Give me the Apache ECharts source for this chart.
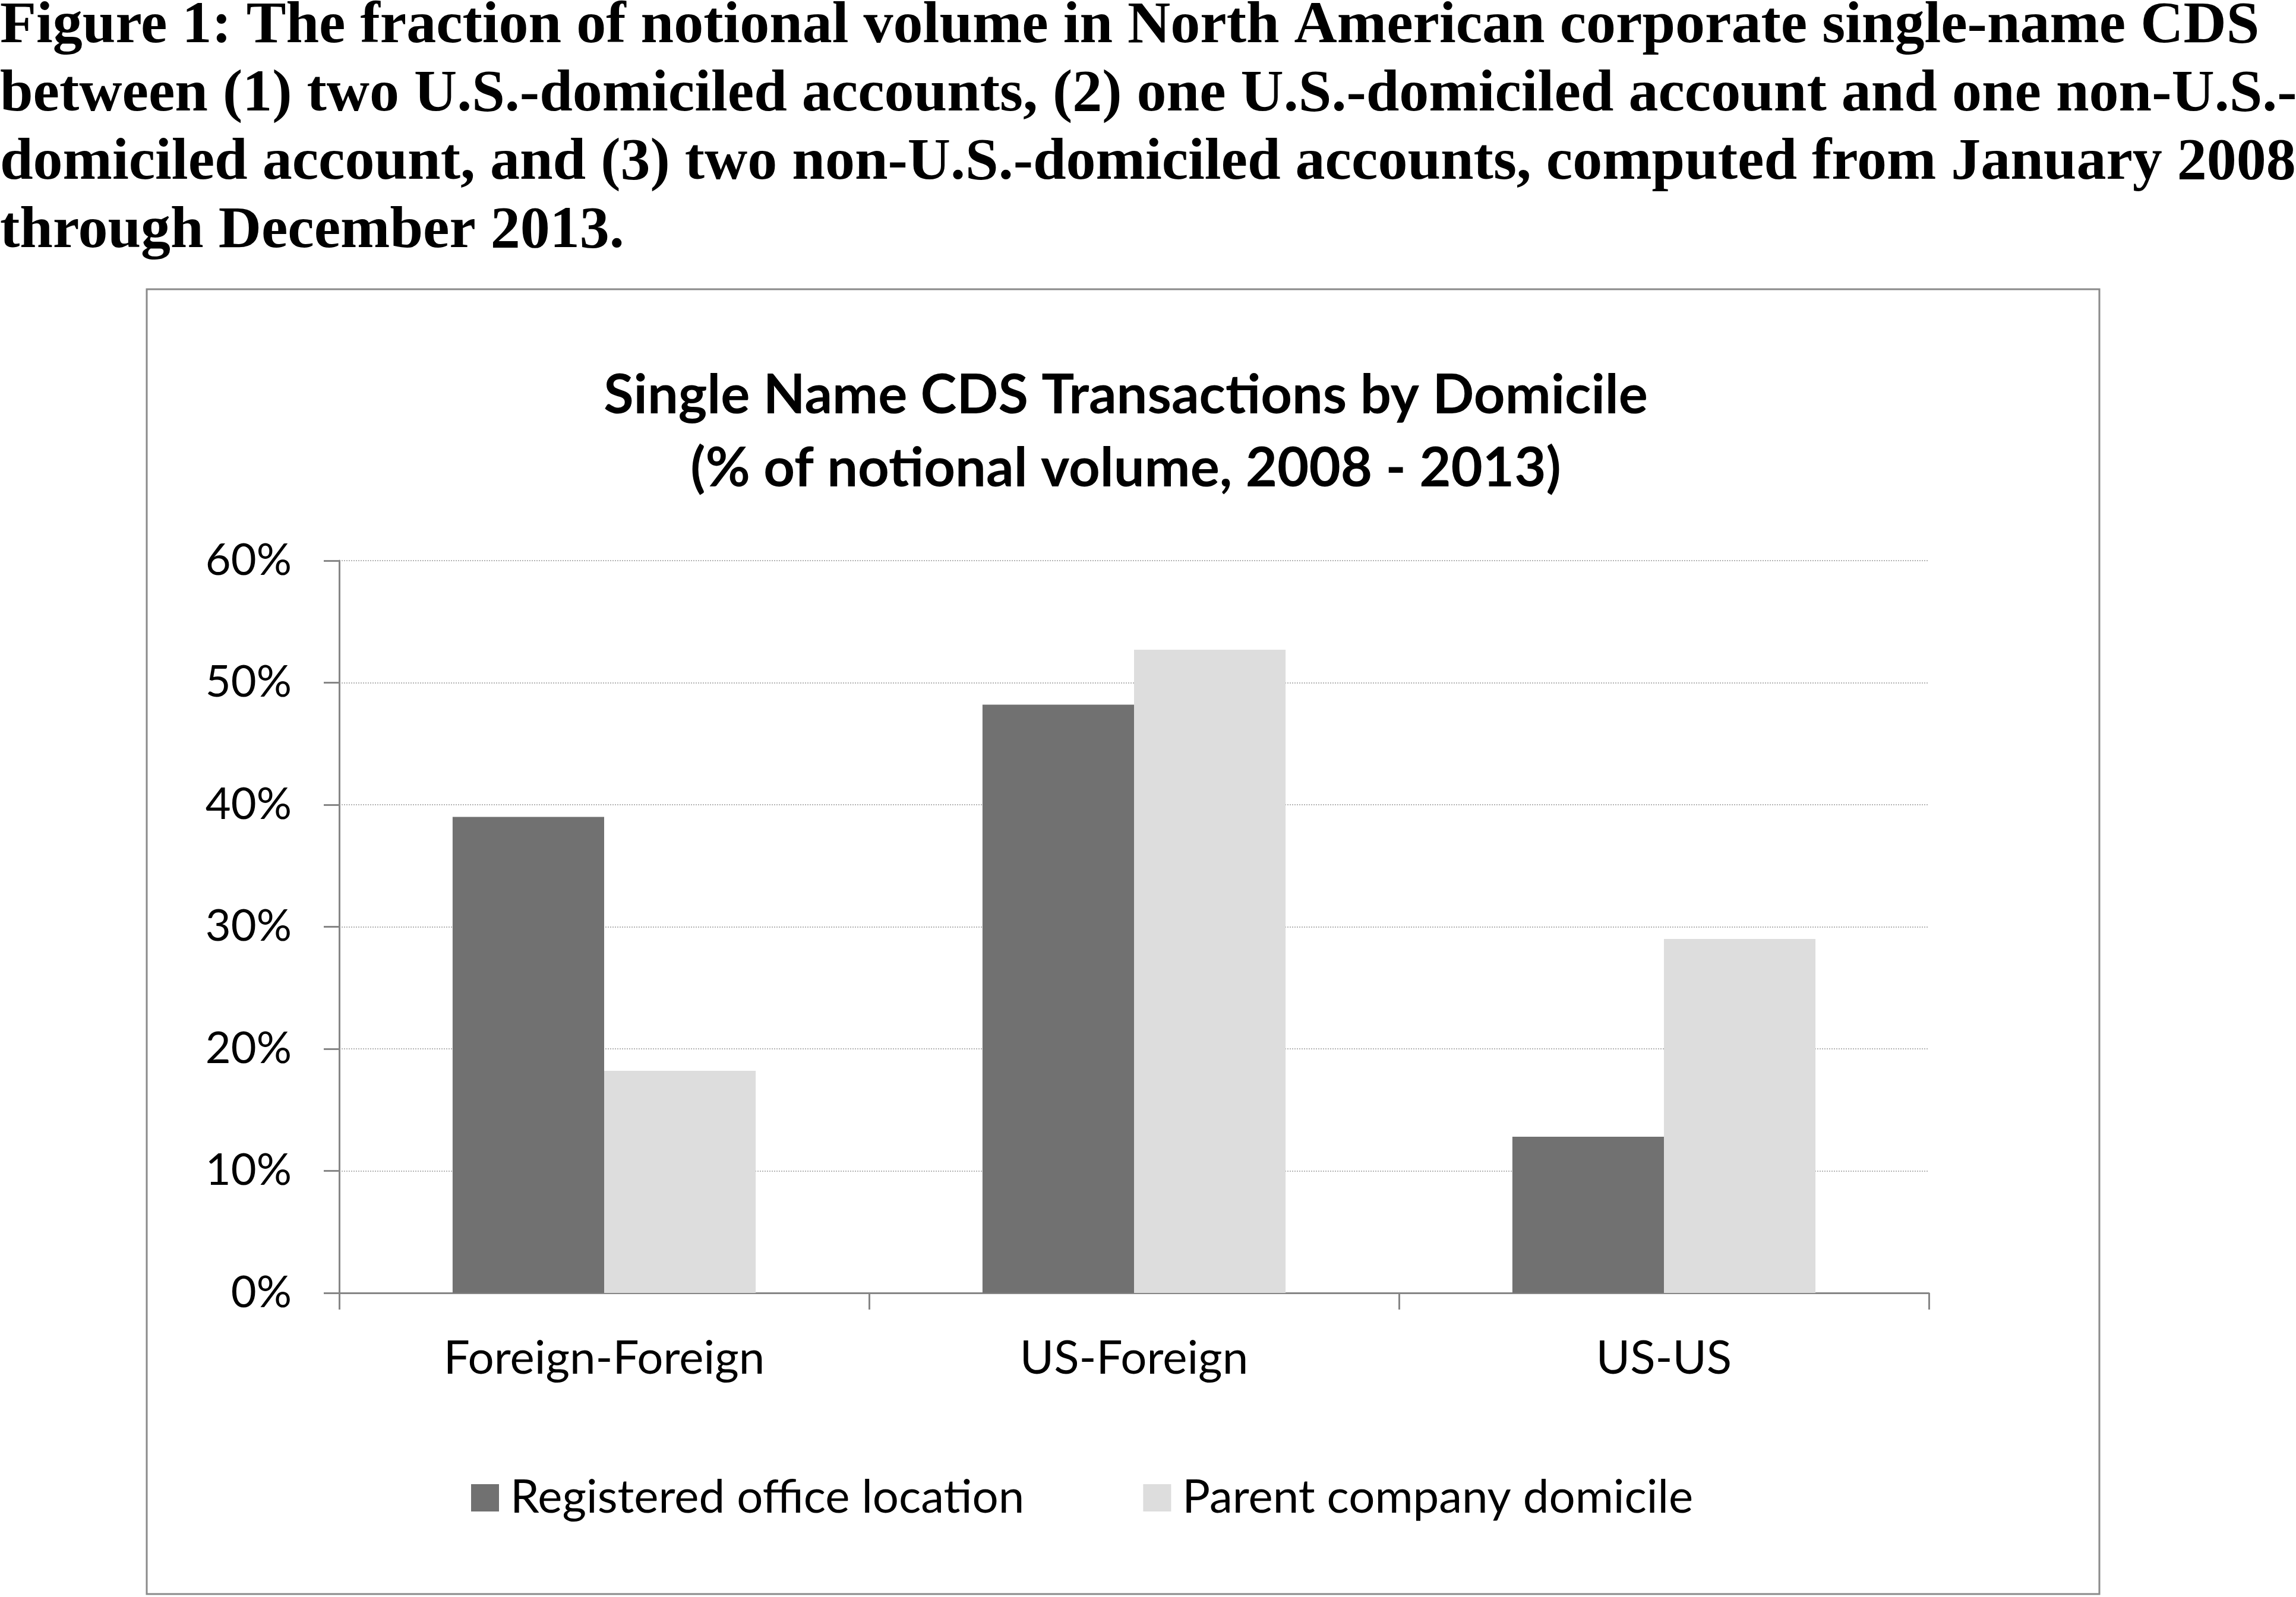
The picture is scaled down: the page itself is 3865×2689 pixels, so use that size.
<!DOCTYPE html>
<html>
<head>
<meta charset="utf-8">
<script src="https://cdn.jsdelivr.net/npm/echarts@6/dist/echarts.min.js"></script>
<style>
html,body{margin:0;padding:0;background:#fff;}
#chart{width:3865px;height:2689px;}
</style>
</head>
<body>
<div id="chart"></div>
<script>
const captionLines = [
  "Figure 1: The fraction of notional volume in North American corporate single-name CDS",
  "between (1) two U.S.-domiciled accounts, (2) one U.S.-domiciled account and one non-U.S.-",
  "domiciled account, and (3) two non-U.S.-domiciled accounts, computed from January 2008",
  "through December 2013."
];
const chartTitle = "Single Name CDS Transactions by Domicile\n(% of notional volume, 2008 - 2013)";
const categories = ["Foreign-Foreign", "US-Foreign", "US-US"];
const seriesNames = ["Registered office location", "Parent company domicile"];
const registeredOffice = [39.0, 48.2, 12.8];
const parentCompany = [18.2, 52.7, 29.0];
const yTicks = [0, 10, 20, 30, 40, 50, 60];

const sansFont = "Lato";
const labelSize = 78;
const chart = echarts.init(document.getElementById('chart'), null, {renderer: 'canvas'});

const captionGraphics = captionLines.map((t, i) => ({
  type: 'text',
  left: 0,
  top: -5 + i * 115,
  style: {
    text: t,
    font: 'bold 100px "Liberation Serif", "Times New Roman", serif',
    fill: '#000'
  }
}));

chart.setOption({
  animation: false,
  backgroundColor: '#fff',
  graphic: [
    ...captionGraphics,
    {
      type: 'rect',
      shape: {x: 247, y: 487, width: 3287, height: 2197},
      style: {fill: 'none', stroke: '#8a8a8a', lineWidth: 3},
      z: -1
    }
  ],
  title: {
    text: chartTitle,
    left: 1890,
    textAlign: 'center',
    top: 600,
    textStyle: {fontFamily: sansFont, fontWeight: 'bold', fontSize: 92, lineHeight: 123, color: '#000'}
  },
  legend: {
    left: 788,
    top: 2478,
    itemWidth: 47,
    itemHeight: 46,
    itemGap: 200,
    icon: 'rect',
    textStyle: {fontFamily: sansFont, fontSize: labelSize, color: '#000', padding: [0, 0, 0, 14]},
    data: seriesNames
  },
  grid: {left: 571, right: 618, top: 944, bottom: 512, containLabel: false},
  xAxis: {
    type: 'category',
    data: categories,
    boundaryGap: true,
    axisLine: {lineStyle: {color: '#868686', width: 3}},
    axisTick: {show: true, length: 28, lineStyle: {color: '#868686', width: 3}},
    axisLabel: {fontFamily: sansFont, fontSize: labelSize, color: '#000', margin: 72}
  },
  yAxis: {
    type: 'value',
    min: yTicks[0],
    max: yTicks[yTicks.length - 1],
    interval: 10,
    axisLine: {show: true, lineStyle: {color: '#868686', width: 3}},
    axisTick: {show: true, length: 26, lineStyle: {color: '#868686', width: 3}},
    axisLabel: {fontFamily: sansFont, fontSize: 74, color: '#000', margin: 80, formatter: '{value}%'},
    splitLine: {show: true, lineStyle: {color: '#b4b4b4', width: 2, type: 'dotted'}}
  },
  series: [
    {
      name: seriesNames[0],
      type: 'bar',
      data: registeredOffice,
      barGap: '0%',
      barCategoryGap: '42.8%',
      itemStyle: {color: '#717171'}
    },
    {
      name: seriesNames[1],
      type: 'bar',
      data: parentCompany,
      barGap: '0%',
      barCategoryGap: '42.8%',
      itemStyle: {color: '#dddddd'}
    }
  ]
});
</script>
</body>
</html>
